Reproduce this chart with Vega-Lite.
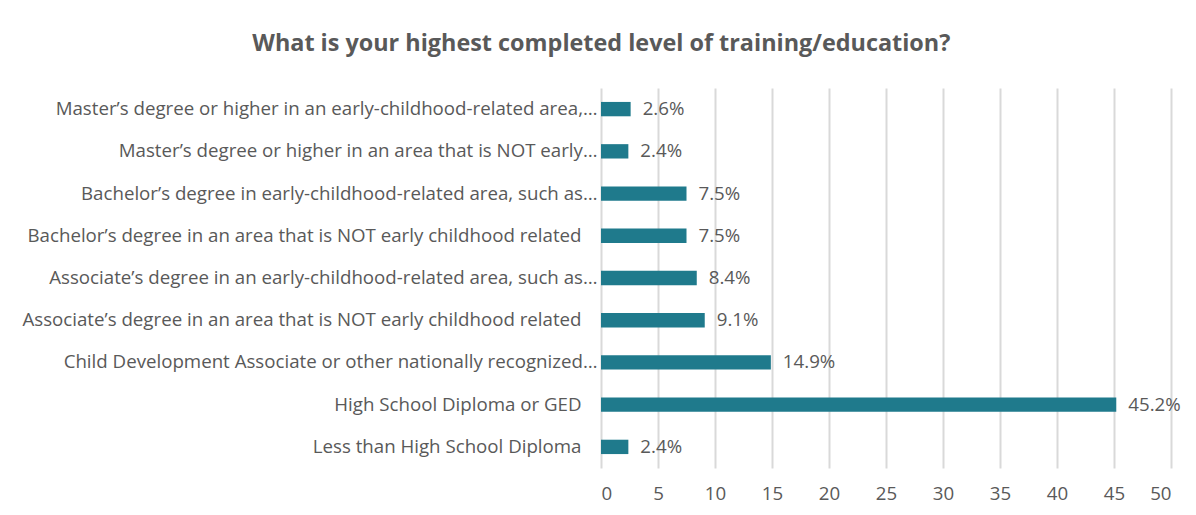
{
  "$schema": "https://vega.github.io/schema/vega-lite/v6.json",
  "autosize": "none",
  "padding": {"left": 601, "top": 88, "right": 25, "bottom": 47},
  "width": 570,
  "height": 380,
  "background": "white",
  "title": {
    "text": "What is your highest completed level of training/education?",
    "anchor": "middle",
    "frame": "bounds",
    "font": "Open Sans",
    "fontSize": 23.4,
    "fontWeight": "bold",
    "color": "#595959",
    "offset": 32
  },
  "data": {
    "values": [
      {"level": "Master’s degree or higher in an early-childhood-related area,…", "pct": 2.6, "label": "2.6%", "order": 1},
      {"level": "Master’s degree or higher in an area that is NOT early…", "pct": 2.4, "label": "2.4%", "order": 2},
      {"level": "Bachelor’s degree in early-childhood-related area, such as…", "pct": 7.5, "label": "7.5%", "order": 3},
      {"level": "Bachelor’s degree in an area that is NOT early childhood related", "pct": 7.5, "label": "7.5%", "order": 4},
      {"level": "Associate’s degree in an early-childhood-related area, such as…", "pct": 8.4, "label": "8.4%", "order": 5},
      {"level": "Associate’s degree in an area that is NOT early childhood related", "pct": 9.1, "label": "9.1%", "order": 6},
      {"level": "Child Development Associate or other nationally recognized…", "pct": 14.9, "label": "14.9%", "order": 7},
      {"level": "High School Diploma or GED", "pct": 45.2, "label": "45.2%", "order": 8},
      {"level": "Less than High School Diploma", "pct": 2.4, "label": "2.4%", "order": 9}
    ]
  },
  "encoding": {
    "y": {
      "field": "level",
      "type": "nominal",
      "sort": {"field": "order"},
      "scale": {"paddingInner": 0.66, "paddingOuter": 0.33},
      "axis": {
        "title": null,
        "domain": false,
        "ticks": false,
        "labelPadding": {"condition": {"test": "indexof(datum.value, '…') >= 0", "value": 4}, "value": 20},
        "labelLimit": 700,
        "labelFont": "Open Sans",
        "labelFontSize": 18.7,
        "labelColor": "#595959"
      }
    },
    "x": {
      "field": "pct",
      "type": "quantitative",
      "scale": {"domain": [0, 50], "nice": false},
      "axis": {
        "title": null,
        "values": [0, 5, 10, 15, 20, 25, 30, 35, 40, 45, 50],
        "domain": false,
        "ticks": false,
        "grid": true,
        "gridColor": "#d9d9d9",
        "gridWidth": 2,
        "labelPadding": 16,
        "labelFont": "Open Sans",
        "labelFontSize": 18.7,
        "labelColor": "#595959"
      }
    }
  },
  "layer": [
    {"mark": {"type": "bar", "color": "#1f7a8c"}},
    {
      "mark": {"type": "text", "align": "left", "dx": 12, "font": "Open Sans", "fontSize": 18.7, "color": "#595959"},
      "encoding": {"text": {"field": "label", "type": "nominal"}}
    }
  ],
  "config": {"view": {"stroke": null}}
}
